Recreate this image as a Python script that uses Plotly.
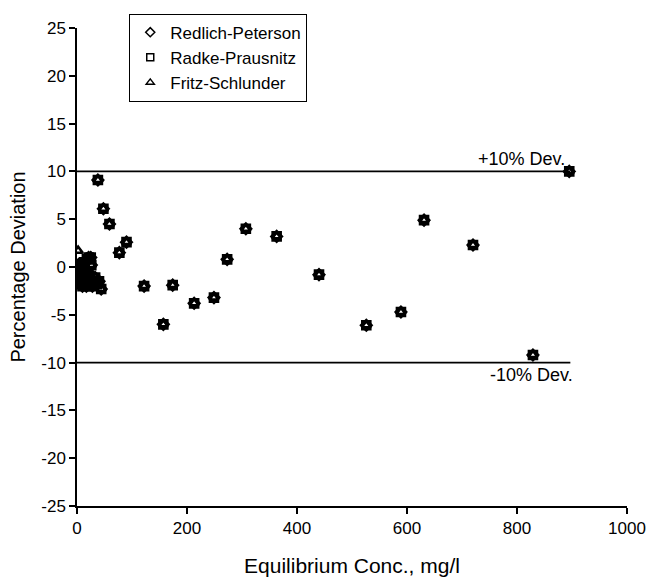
import plotly.graph_objects as go

# Equilibrium concentration (mg/l) and percentage deviation per model
conc = [2, 3, 4, 5, 6, 7, 8, 9, 10, 12, 13, 14, 15, 17, 18, 20, 21, 23, 25, 26, 28, 30, 33, 36, 40, 44,
        38, 48, 59, 77, 90, 122, 157, 174, 213, 249, 273, 307, 363, 440, 526, 589, 631, 720, 829, 895]
dev_rp = [-1.0, -1.5, 0.3, -0.5, -1.8, -1.2, 0.0, -0.8, -2.0, -1.5, 0.5, -0.3, -1.0, -2.0, 0.8, -0.5, 1.0, -1.3,
          1.0, 0.2, -2.0, -1.6, -1.1, -1.8, -1.5, -2.3,
          9.1, 6.1, 4.5, 1.5, 2.6, -2.0, -6.0, -1.9, -3.8, -3.2, 0.8, 4.0, 3.2, -0.8, -6.1, -4.7, 4.9, 2.3, -9.2, 10.0]
dev_radke = list(dev_rp)
dev_fritz = [1.7] + dev_rp[1:]

series_names = ["Redlich-Peterson", "Radke-Prausnitz", "Fritz-Schlunder"]
series_values = [dev_rp, dev_radke, dev_fritz]
series_symbols = ["diamond-open", "square-open", "triangle-up-open"]

band_x = [0, 897]
upper_band = [10, 10]
lower_band = [-10, -10]

x_ticks = [0, 200, 400, 600, 800, 1000]
y_ticks = [-25, -20, -15, -10, -5, 0, 5, 10, 15, 20, 25]

font_family = "Liberation Sans, Arial, sans-serif"

fig = go.Figure()

for bx in (upper_band, lower_band):
    fig.add_trace(go.Scatter(x=band_x, y=bx, mode="lines", showlegend=False,
                             line=dict(color="black", width=1.6), hoverinfo="skip"))

for name, vals, sym in zip(series_names, series_values, series_symbols):
    fig.add_trace(go.Scatter(
        x=conc, y=vals, mode="markers", name=name, showlegend=False,
        marker=dict(symbol=sym, size=8, color="black", line=dict(color="black", width=2.6)),
    ))

# legend entries (smaller symbols, as in the original key)
for name, sym in zip(series_names, series_symbols):
    fig.add_trace(go.Scatter(
        x=[None], y=[None], mode="markers", name=name,
        marker=dict(symbol=sym, size=7, color="black", line=dict(color="black", width=1.5)),
    ))

fig.add_annotation(x=890, y=10, xref="x", yref="y", text="+10% Dev.", showarrow=False,
                   xanchor="right", yanchor="bottom", yshift=0,
                   font=dict(family=font_family, size=18, color="black"))
fig.add_annotation(x=906, y=-10, xref="x", yref="y", text="-10% Dev.", showarrow=False,
                   xanchor="right", yanchor="top", yshift=0,
                   font=dict(family=font_family, size=18, color="black"))

fig.update_layout(
    width=651, height=577,
    margin=dict(l=77, r=24, t=28, b=71),
    paper_bgcolor="white", plot_bgcolor="white",
    font=dict(family=font_family, size=16, color="black"),
    legend=dict(x=0.095, y=1.03, xanchor="left", yanchor="top",
                bgcolor="white", bordercolor="black", borderwidth=1,
                font=dict(family=font_family, size=17, color="black"),
                itemwidth=30, tracegroupgap=0),
    xaxis=dict(range=[0, 1000], tickvals=x_ticks, ticktext=[str(v) for v in x_ticks],
               showgrid=False, zeroline=False, showline=True, linecolor="black", linewidth=1.5,
               ticks="outside", ticklen=6, tickwidth=1.5, tickcolor="black",
               tickfont=dict(size=17), automargin=False,
               title=dict(text="Equilibrium Conc., mg/l", font=dict(size=21), standoff=22)),
    yaxis=dict(range=[-25, 25], tickvals=y_ticks, ticktext=[str(v) for v in y_ticks],
               showgrid=False, zeroline=False, showline=True, linecolor="black", linewidth=1.5,
               ticks="outside", ticklen=6, tickwidth=1.5, tickcolor="black",
               tickfont=dict(size=17), automargin=False,
               title=dict(text="Percentage Deviation", font=dict(size=20), standoff=10)),
)

fig.write_html("out.html")
